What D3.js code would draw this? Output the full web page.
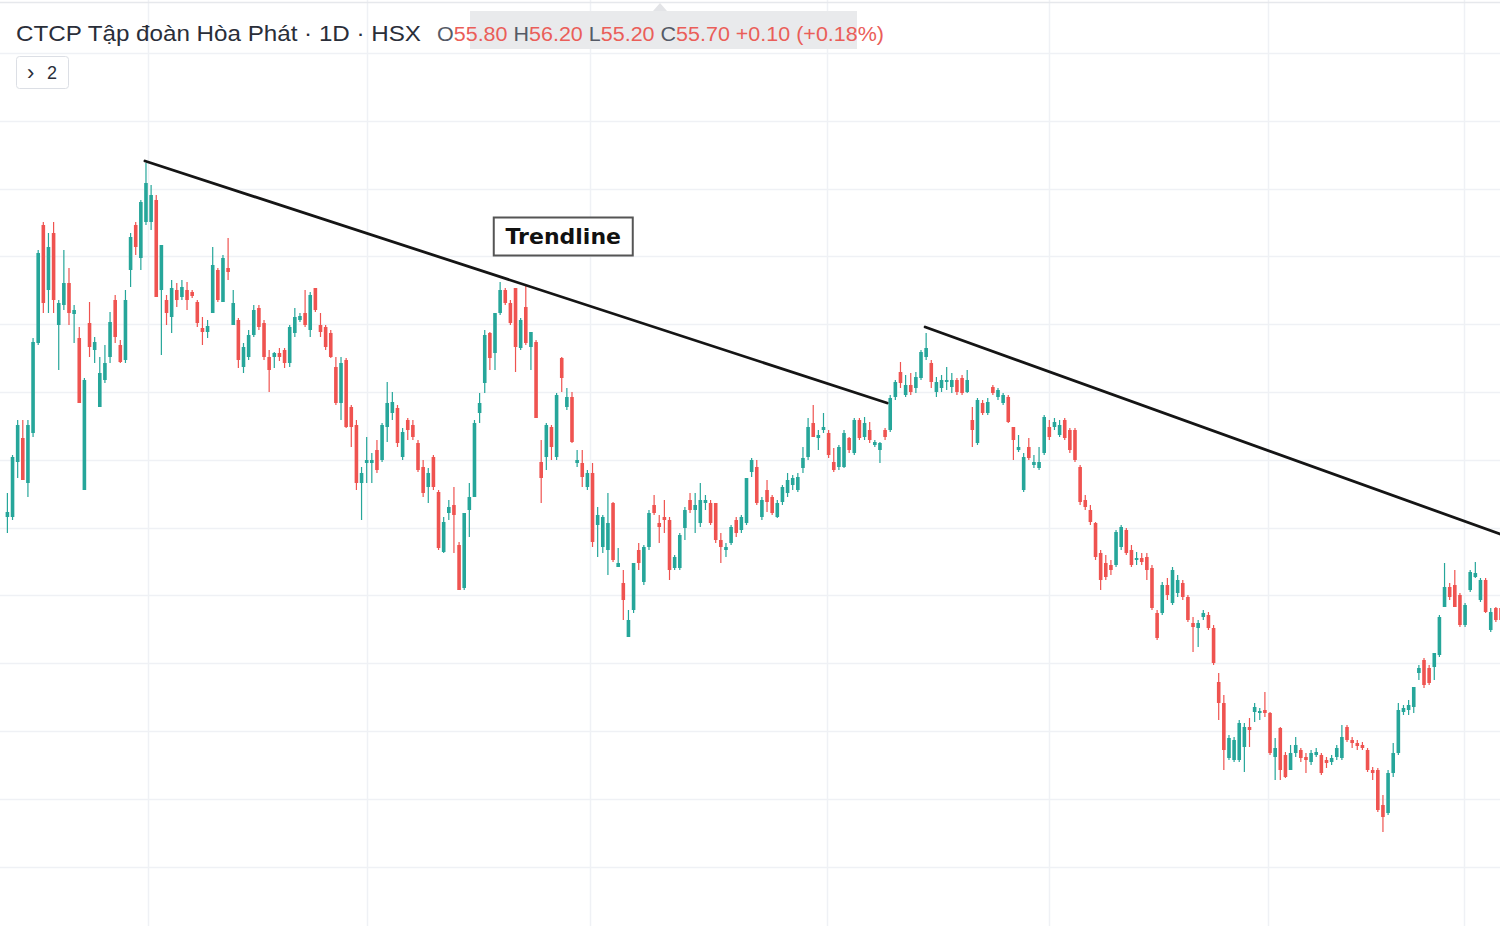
<!DOCTYPE html>
<html><head><meta charset="utf-8">
<script src="https://cdn.jsdelivr.net/npm/d3@7"></script>
<style>html,body{margin:0;padding:0;background:#fff;overflow:hidden}</style>
</head><body><svg id="c" width="1500" height="926"></svg>
<script>
// ---- data: daily candles [open, high, low, close] (price units) ----
const ohlc = [
[48.3,50.7,46.7,48.8],[48.3,54.5,48.0,54.3],[53.8,58.0,52.2,57.5],[56.2,58.0,52.0,52.0],[51.7,58.0,50.3,57.5],
[56.7,66.2,56.3,65.8],[65.7,75.0,65.5,74.7],[77.5,77.8,68.7,69.7],[71.0,76.7,68.7,75.3],[76.7,77.8,68.7,70.0],
[67.5,70.0,63.0,69.7],[69.5,75.0,69.0,71.7],[71.7,73.2,67.5,68.7],[68.6,69.5,65.7,69.0],[66.2,67.3,59.7,59.7],
[51.0,62.2,51.0,62.0],[67.7,69.8,64.3,65.3],[65.0,66.3,63.7,65.8],[59.3,64.3,59.3,62.7],[62.0,65.5,61.7,63.7],
[64.3,68.8,63.7,67.8],[70.0,70.5,65.7,66.3],[65.5,66.0,63.7,63.8],[64.0,71.0,63.7,70.0],[73.0,76.7,71.3,76.3],
[77.5,77.8,74.5,75.3],[74.2,80.0,73.0,79.8],[77.8,83.7,77.5,81.7],[77.8,81.5,77.0,80.5],[80.0,80.5,70.3,70.3],
[71.0,75.5,64.5,75.5],[70.0,70.5,67.5,68.7],[68.3,72.0,66.7,71.2],[71.0,71.7,69.3,70.0],[70.3,72.0,70.0,71.3],
[71.0,71.8,69.0,70.0],[70.8,71.0,70.2,70.4],[69.8,70.0,67.3,67.7],[67.2,68.3,65.5,66.8],[66.8,68.0,66.2,67.4],
[68.7,75.3,68.7,73.5],[73.0,73.2,69.8,70.0],[69.8,74.5,69.8,74.2],[73.2,76.2,72.0,72.8],[67.5,71.0,67.5,69.7],
[68.0,68.2,63.2,64.0],[63.3,65.7,62.7,65.3],[64.3,67.0,64.0,66.5],[66.5,69.5,66.3,69.0],[69.2,69.5,67.0,67.3],
[67.7,68.0,64.0,64.3],[64.3,65.0,60.8,63.0],[64.3,64.8,63.2,64.7],[64.7,65.2,63.9,64.3],[65.0,65.2,63.2,63.7],
[63.7,67.5,63.3,67.3],[66.7,69.2,66.3,68.3],[68.0,68.7,67.8,68.4],[68.7,71.0,67.3,67.5],[67.0,70.8,66.3,70.5],
[71.2,71.2,68.8,69.0],[67.5,68.7,66.3,66.8],[67.3,67.5,65.0,65.3],[66.7,67.0,64.2,64.3],[63.3,64.3,59.5,59.7],
[59.7,64.3,58.0,63.7],[64.0,64.2,57.2,57.3],[59.3,59.5,55.3,57.3],[57.5,58.0,51.0,51.7],[51.7,53.3,48.0,52.7],
[53.7,56.3,51.7,54.0],[53.7,54.7,51.7,54.0],[55.0,56.0,52.7,53.0],[54.0,57.7,53.8,57.5],[57.3,61.8,55.8,59.7],
[58.7,60.8,58.0,59.8],[59.2,59.5,55.3,55.7],[54.3,57.2,54.0,56.8],[58.0,58.2,56.0,57.0],[57.5,58.0,56.0,56.3],
[55.7,56.0,52.8,53.0],[53.3,54.0,50.3,50.7],[51.3,53.2,49.7,52.7],[54.3,54.5,51.0,51.3],[50.8,51.0,45.0,45.2],
[44.8,48.3,44.7,47.8],[48.7,50.0,48.0,49.3],[49.5,51.3,44.7,48.5],[45.5,45.8,41.0,41.0],[41.2,48.7,41.0,48.7],
[49.0,51.7,46.3,50.3],[50.3,58.0,50.3,57.7],[58.7,60.7,57.7,59.7],[61.7,67.0,60.7,66.5],[66.7,66.8,63.0,64.2],
[64.7,68.7,63.0,68.7],[68.7,71.8,68.5,71.0],[71.0,71.2,69.5,69.7],[69.7,70.0,67.5,67.7],[71.2,71.2,62.8,65.3],
[65.2,68.2,65.0,68.0],[69.3,71.5,65.5,65.7],[65.3,66.8,63.0,66.8],[65.8,66.0,58.2,58.2],[53.8,56.0,49.7,52.2],
[54.3,57.7,53.0,57.5],[57.3,57.5,54.0,55.3],[54.3,60.7,54.0,60.5],[64.2,64.3,60.8,62.2],[59.3,61.2,59.0,60.3],
[60.3,60.8,55.7,55.8],[53.7,55.0,53.3,54.0],[53.7,55.0,51.3,52.3],[51.3,53.0,51.0,52.7],[52.7,53.7,45.3,45.8],
[47.5,49.3,44.3,48.5],[45.3,48.5,44.7,48.3],[45.0,50.7,42.5,47.7],[49.7,49.8,43.8,44.0],[43.3,45.2,43.3,43.7],
[41.7,43.0,38.0,40.0],[36.3,39.0,36.3,38.0],[39.0,43.7,38.7,43.7],[45.0,45.7,43.0,43.7],[41.8,45.5,41.5,45.3],
[45.3,49.0,45.0,48.7],[49.5,50.5,48.5,48.7],[47.7,48.5,45.7,47.3],[48.3,50.0,46.7,48.0],[48.0,48.3,42.0,43.0],
[43.2,44.5,43.0,44.3],[43.2,46.7,43.0,46.5],[47.2,49.3,46.0,49.0],[50.0,50.7,48.7,49.0],[49.0,50.7,46.7,49.5],
[47.7,51.7,47.3,50.0],[49.7,50.5,49.0,50.0],[49.7,50.0,47.5,47.7],[49.7,49.7,45.7,46.0],[46.0,46.7,43.7,45.3],
[45.0,45.7,44.3,45.3],[45.7,47.5,45.5,47.3],[48.0,48.3,46.3,46.7],[47.0,48.5,46.7,48.3],[47.7,52.2,47.5,52.2],
[52.8,54.2,52.3,54.0],[53.3,54.0,49.5,49.7],[48.3,50.3,48.0,50.0],[51.0,52.0,48.8,49.8],[50.3,50.5,48.5,48.7],
[48.3,50.0,48.2,49.7],[49.8,51.5,49.5,51.3],[50.7,52.7,50.3,52.0],[51.5,52.5,51.0,52.2],[51.0,52.7,50.8,52.3],
[53.2,55.3,52.7,54.2],[54.3,58.2,54.0,57.3],[57.7,59.5,56.3,56.3],[56.2,57.0,55.0,56.5],[57.0,58.7,56.7,57.3],
[56.7,57.0,54.2,54.5],[53.8,55.2,52.8,53.0],[53.3,55.5,53.0,55.3],[53.3,57.0,53.2,56.7],[56.2,56.3,54.7,55.0],
[54.7,58.2,54.5,58.0],[58.0,58.2,56.0,56.2],[56.3,58.3,56.0,57.7],[57.0,57.8,55.7,56.0],[55.5,56.0,55.3,55.8],
[55.0,55.8,53.7,55.7],[57.0,57.2,56.0,56.3],[57.0,60.5,56.8,60.2],[60.3,62.0,60.0,61.8],[62.8,63.8,61.2,61.7],
[60.5,62.5,60.3,61.5],[61.5,62.7,60.5,60.8],[61.2,62.8,60.7,62.3],[62.2,65.0,62.0,64.8],[64.3,66.7,64.0,65.2],
[63.7,64.0,61.2,61.8],[60.8,62.3,60.3,61.8],[61.2,62.5,60.8,62.0],[61.8,63.3,61.0,62.0],[61.3,62.7,60.7,62.0],
[62.0,62.2,60.5,60.8],[62.2,62.5,60.5,60.7],[60.8,63.0,60.7,62.0],[58.0,59.3,55.3,57.0],[55.7,60.2,55.5,60.0],
[59.7,60.0,58.5,58.7],[58.7,60.2,58.5,59.8],[61.3,61.5,60.5,60.7],[60.3,61.2,60.0,61.0],[59.7,60.7,59.5,60.5],
[60.3,60.5,57.7,57.8],[57.3,57.3,54.0,56.0],[55.0,56.5,54.8,55.3],[51.0,54.7,50.8,54.3],[55.3,56.2,54.0,54.2],
[53.5,54.5,53.2,53.8],[53.2,55.3,53.0,53.8],[54.7,58.5,54.5,58.3],[57.3,58.0,56.0,56.3],[57.3,58.2,57.0,57.8],
[56.5,58.0,56.3,57.5],[58.0,58.2,56.0,56.2],[57.0,57.2,54.7,55.0],[57.0,57.2,53.8,54.0],[53.3,53.5,49.5,49.8],
[50.0,50.5,49.0,49.3],[49.0,49.5,47.5,47.8],[47.7,47.8,44.0,44.3],[44.7,45.0,41.0,42.0],[43.7,44.5,42.0,42.3],
[43.5,44.0,42.5,43.0],[43.5,47.0,43.3,46.8],[45.3,47.5,45.0,47.3],[47.0,47.2,44.5,44.7],[45.0,45.5,43.3,43.5],
[44.0,44.8,43.5,44.2],[44.2,44.7,43.5,43.8],[44.3,44.7,42.0,43.0],[43.2,43.5,39.0,39.2],[38.7,39.0,36.0,36.2],
[38.7,41.8,38.5,41.5],[41.5,42.2,40.0,40.5],[39.7,43.3,39.5,43.0],[40.7,42.5,40.3,42.0],[41.7,42.0,40.0,40.3],
[40.3,40.5,37.8,38.0],[37.7,38.3,34.8,37.3],[37.2,38.0,35.3,37.7],[38.3,39.0,38.0,38.7],[38.5,38.8,37.0,37.2],
[37.2,37.5,33.5,33.7],[31.8,32.7,28.0,29.7],[29.7,30.5,23.0,25.0],[24.2,26.5,24.0,26.2],[24.0,26.3,23.8,26.0],
[24.0,28.0,23.8,27.7],[25.3,27.7,22.8,27.3],[27.3,28.2,25.3,27.0],[28.8,29.7,27.8,29.3],[28.7,29.2,28.0,28.9],
[29.0,30.8,28.3,28.7],[28.7,28.8,24.5,24.7],[24.3,26.2,22.0,25.2],[27.2,27.3,22.0,23.0],[24.5,24.8,22.2,22.3],
[23.0,25.5,23.0,24.7],[24.7,26.3,24.3,25.5],[25.0,25.2,23.8,24.2],[24.3,24.7,22.7,24.0],[23.8,25.0,23.5,24.7],
[24.5,25.2,24.3,24.8],[24.5,24.7,22.5,22.7],[24.0,24.3,23.2,23.7],[23.8,24.5,23.5,24.2],[24.3,25.5,24.0,25.2],
[24.2,27.5,24.0,26.3],[27.3,27.5,25.8,26.0],[26.0,26.3,25.2,25.7],[25.7,26.0,25.0,25.4],[25.5,25.8,25.0,25.2],
[25.0,25.2,22.8,23.0],[23.0,23.3,22.0,22.7],[23.0,23.2,18.8,19.0],[19.5,20.5,16.8,18.3],[18.7,23.0,18.5,22.7],
[22.7,25.7,22.3,24.7],[24.7,29.7,24.5,29.0],[28.8,29.5,28.5,29.2],[29.0,30.0,28.5,29.5],[29.3,31.3,28.7,31.3],
[32.7,33.5,32.0,33.2],[34.0,34.2,31.2,31.5],[33.2,33.5,31.5,31.7],[33.3,34.7,32.0,34.7],[34.5,38.5,34.3,38.3],
[39.3,43.7,39.3,41.3],[41.3,41.7,40.0,40.3],[41.5,43.0,39.3,39.3],[40.5,40.7,37.3,37.5],[37.5,39.7,37.3,39.5],
[41.0,43.0,40.8,42.8],[42.3,43.8,42.2,42.7],[40.0,42.2,39.8,42.0],[42.0,42.2,38.7,38.8],[37.0,39.2,36.8,38.8],
[39.2,39.3,37.8,38.0],[39.2,39.3,37.5,38.0]
];
// horizontal grid levels (price units) and vertical grid positions (bar index, month marks)
const gridPrices = [94.7, 87.9, 81.1, 74.4, 67.6, 60.8, 54.0, 47.2, 40.5, 33.7, 26.9, 20.1, 13.3];
const gridBars = [27.4, 70.1, 113.5, 159.7, 202.9, 245.6, 283.8];
// trendlines drawn on the chart: [barIndex, price] pairs
const trendlines = [
  [[26.8, 83.9], [171.4, 59.7]],
  [[178.8, 67.3], [290.8, 46.6]]
];
const annotation = {bar: 108.3, price: 76.4, text: "Trendline"};
const title = "CTCP Tập đoàn Hòa Phát · 1D · HSX";
const ohlcKeys = ["O", "H", "L", "C"];
const ohlcVals = ["55.80", "56.20", "55.20", "55.70"];
const change = "+0.10 (+0.18%)";
const paneCount = "2";

const UP = "#26a69a", DOWN = "#ef5350";
const W = 1500, H = 926;
const svg = d3.select("#c");
const N = ohlc.length;
const x = d3.scaleLinear().domain([0, N - 1]).range([7.4, 1501]);
const y = d3.scaleLinear().domain([100, 7.4]).range([0, H]);

// grid
const g = svg.append("g");
g.selectAll("line.h").data(gridPrices).join("line")
  .attr("x1", 0).attr("x2", W).attr("y1", d => Math.round(y(d)) + 0.5).attr("y2", d => Math.round(y(d)) + 0.5)
  .attr("stroke", "#eff1f5").attr("stroke-width", 1.5);
g.selectAll("line.v").data(gridBars).join("line")
  .attr("y1", 0).attr("y2", H).attr("x1", d => Math.round(x(d)) + 0.5).attr("x2", d => Math.round(x(d)) + 0.5)
  .attr("stroke", "#eff1f5").attr("stroke-width", 1.5);
// top border line
svg.append("line").attr("x1", 0).attr("x2", W).attr("y1", 2.5).attr("y2", 2.5).attr("stroke", "#e6e8ec").attr("stroke-width", 1.5);

// candles
const cg = svg.append("g");
const c = cg.selectAll("g").data(ohlc).join("g");
c.append("line")
  .attr("x1", (d, i) => x(i)).attr("x2", (d, i) => x(i))
  .attr("y1", d => y(d[1])).attr("y2", d => y(d[2]))
  .attr("stroke", d => d[3] >= d[0] ? UP : DOWN).attr("stroke-width", 1.2);
c.append("rect")
  .attr("x", (d, i) => x(i) - 1.8).attr("width", 3.6)
  .attr("y", d => y(Math.max(d[0], d[3])))
  .attr("height", d => Math.max(1.2, Math.abs(y(d[0]) - y(d[3]))))
  .attr("fill", d => d[3] >= d[0] ? UP : DOWN);

// trendlines
svg.selectAll("line.trend").data(trendlines).join("line")
  .attr("x1", d => x(d[0][0])).attr("y1", d => y(d[0][1]))
  .attr("x2", d => x(d[1][0])).attr("y2", d => y(d[1][1]))
  .attr("stroke", "#151515").attr("stroke-width", 2.8).attr("stroke-linecap", "round");

// annotation label
const ax = x(annotation.bar), ay = y(annotation.price);
svg.append("rect").attr("x", ax - 69.5).attr("y", ay - 18.5).attr("width", 139).attr("height", 38)
  .attr("fill", "#fff").attr("stroke", "#555").attr("stroke-width", 2);
svg.append("text").attr("x", ax).attr("y", ay + 7.5).attr("text-anchor", "middle")
  .attr("font-family", "DejaVu Sans").attr("font-weight", "bold").attr("font-size", 22)
  .attr("fill", "#111").text(annotation.text);

// header
svg.append("path").attr("d", "M653,11 L660,3 L667,11 Z").attr("fill", "#e3e4e7");
svg.append("rect").attr("x", 470).attr("y", 11).attr("width", 387).attr("height", 38).attr("fill", "#e9eaec");
svg.append("text").attr("x", 16).attr("y", 41).attr("font-family", "Liberation Sans, Arial").attr("font-size", 22)
  .attr("fill", "#2a2e39").attr("textLength", 405).attr("lengthAdjust", "spacingAndGlyphs").text(title);
const t = svg.append("text").attr("x", 437).attr("y", 41).attr("font-family", "Liberation Sans, Arial").attr("font-size", 20)
  .attr("textLength", 447).attr("lengthAdjust", "spacingAndGlyphs");
ohlcKeys.forEach((k, i) => {
  t.append("tspan").attr("fill", "#555a66").text((i ? " " : "") + k);
  t.append("tspan").attr("fill", "#ea5e59").text(ohlcVals[i]);
});
t.append("tspan").attr("fill", "#ea5e59").text(" " + change);

// collapsed panes button
svg.append("rect").attr("x", 16.5).attr("y", 56.5).attr("width", 52).attr("height", 32).attr("rx", 3)
  .attr("fill", "#fff").attr("stroke", "#dcdfe5");
svg.append("text").attr("x", 27).attr("y", 80).attr("font-family", "Liberation Sans, Arial").attr("font-size", 22)
  .attr("fill", "#2a2e39").text("›");
svg.append("text").attr("x", 47).attr("y", 79).attr("font-family", "Liberation Sans, Arial").attr("font-size", 18)
  .attr("fill", "#2a2e39").text(paneCount);
</script>
</body></html>
